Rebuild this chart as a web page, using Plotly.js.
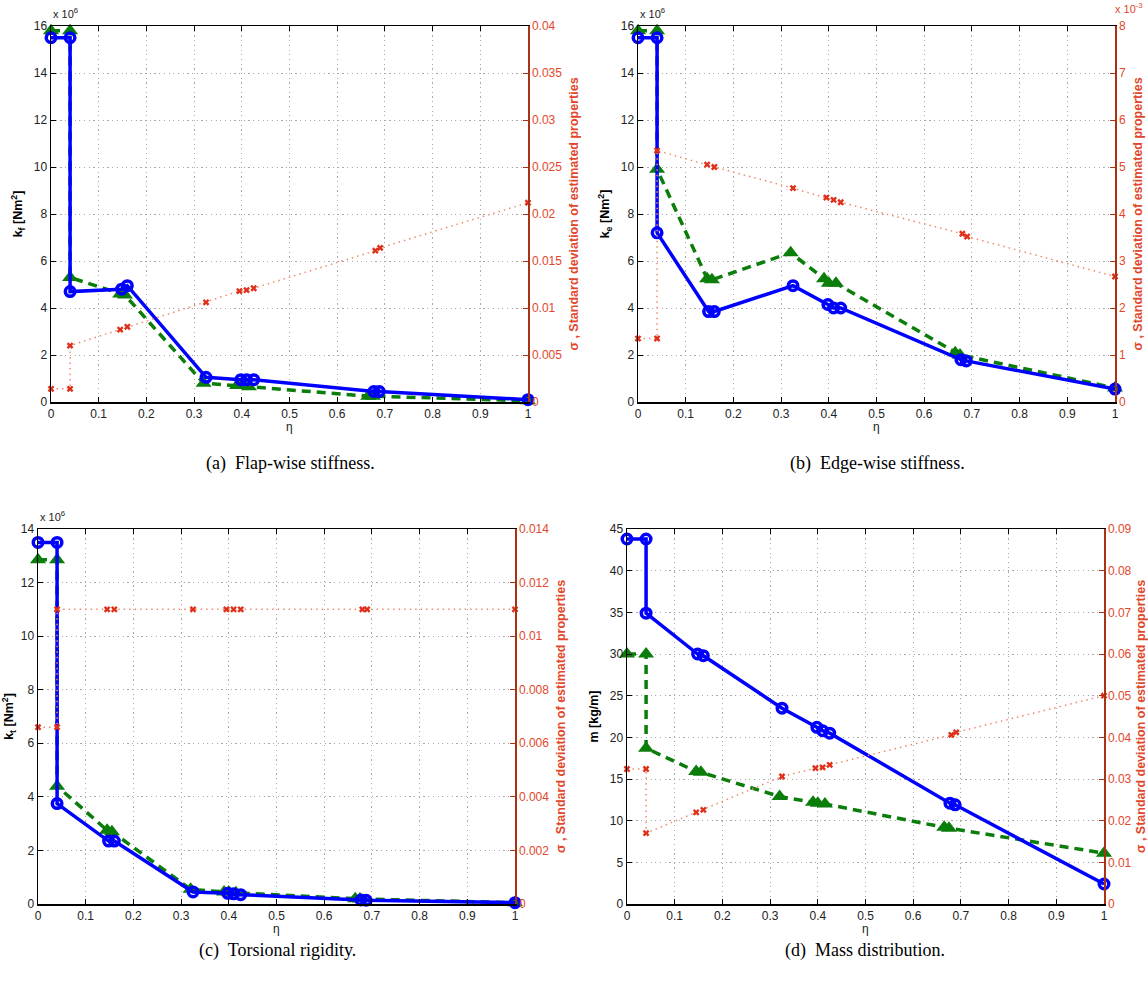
<!DOCTYPE html>
<html><head><meta charset="utf-8">
<script src="https://cdn.plot.ly/plotly-3.0.1.min.js"></script>
<style>html,body{margin:0;padding:0;background:#fff}#chart{width:1148px;height:981px}</style>
</head><body><div id="chart"></div>
<script>
// η positions
const etaBlue  = [0, 0.04, 0.04, 0.148, 0.16, 0.325, 0.398, 0.41, 0.425, 0.677, 0.688, 1.0];
const etaGreen = [0, 0.04, 0.04, 0.145, 0.155, 0.32, 0.39, 0.40, 0.415, 0.665, 0.675, 1.0];
const etaRed   = [0, 0.04, 0.04, 0.145, 0.16, 0.325, 0.395, 0.41, 0.425, 0.68, 0.69, 1.0];

// (a) flap-wise stiffness, x 10^6 Nm^2
const flapBlue  = [15.5, 15.5, 4.7, 4.8, 4.95, 1.05, 0.95, 0.95, 0.95, 0.45, 0.45, 0.1];
const flapGreen = [15.8, 15.8, 5.3, 4.6, 4.55, 0.8, 0.7, 0.7, 0.65, 0.25, 0.25, 0.05];
const flapSigma = [0.0014, 0.0014, 0.006, 0.0077, 0.008, 0.0106, 0.0118, 0.0119, 0.0121, 0.0161, 0.0164, 0.0212];

// (b) edge-wise stiffness, x 10^6 Nm^2 ; sigma x 10^-3
const edgeBlue  = [15.5, 15.5, 7.2, 3.85, 3.85, 4.95, 4.15, 4.0, 4.0, 1.8, 1.75, 0.55];
const edgeGreen = [15.8, 15.8, 9.9, 5.25, 5.2, 6.35, 5.25, 5.05, 5.05, 2.1, 2.0, 0.6];
const edgeSigma = [1.35, 1.35, 5.35, 5.05, 5.0, 4.55, 4.35, 4.3, 4.25, 3.58, 3.52, 2.67];

// (c) torsional rigidity, x 10^6 Nm^2
const torBlue  = [13.5, 13.5, 3.75, 2.35, 2.35, 0.45, 0.4, 0.38, 0.35, 0.15, 0.14, 0.05];
const torGreen = [12.85, 12.85, 4.4, 2.75, 2.7, 0.55, 0.45, 0.45, 0.42, 0.2, 0.19, 0.05];
const torSigma = [0.0066, 0.0066, 0.011, 0.011, 0.011, 0.011, 0.011, 0.011, 0.011, 0.011, 0.011, 0.011];

// (d) mass distribution, kg/m
const massBlue  = [43.8, 43.8, 34.9, 30.0, 29.8, 23.5, 21.2, 20.8, 20.5, 12.1, 11.9, 2.4];
const massGreen = [30.0, 30.0, 18.7, 15.9, 15.8, 12.9, 12.2, 12.1, 12.0, 9.2, 9.1, 6.1];
const massSigma = [0.0324, 0.0324, 0.017, 0.022, 0.0226, 0.0306, 0.0326, 0.0328, 0.0334, 0.0406, 0.0412, 0.05];

const BLUE = '#0000ff', GREEN = '#0a7d0a', REDL = '#f08a6a', REDM = '#e0301a';
const RAX = '#a83214', RTXT = '#e2472b';

function traces(xa, ya, yb, blue, green, sigma) {
  return [
    {x: etaGreen, y: green, xaxis: xa, yaxis: ya, type: 'scatter', mode: 'lines+markers', cliponaxis: false,
     line: {color: GREEN, width: 3.5, dash: '9px,6px'}, marker: {symbol: 'triangle-up', size: 14, color: GREEN}},
    {x: etaBlue, y: blue, xaxis: xa, yaxis: ya, type: 'scatter', mode: 'lines+markers', cliponaxis: false,
     line: {color: BLUE, width: 3.5}, marker: {symbol: 'circle-open', size: 9.5, color: BLUE, line: {width: 3.5, color: BLUE}}},
    {x: etaRed, y: sigma, xaxis: xa, yaxis: yb, type: 'scatter', mode: 'lines+markers', cliponaxis: false,
     line: {color: REDL, width: 1.5, dash: '1.5px,4px'}, marker: {symbol: 'x', size: 6, color: REDM}}
  ];
}

const data = [].concat(
  traces('x', 'y', 'y2', flapBlue, flapGreen, flapSigma),
  traces('x2', 'y3', 'y4', edgeBlue, edgeGreen, edgeSigma),
  traces('x3', 'y5', 'y6', torBlue, torGreen, torSigma),
  traces('x4', 'y7', 'y8', massBlue, massGreen, massSigma)
);

const F = 'Liberation Sans, Arial, sans-serif';
const GRID = '#a8a8a8', GDASH = '1.2px,3.5px';
function xax(dom, anchor) {
  return {domain: dom, anchor: anchor, range: [0, 1], dtick: 0.1, tick0: 0,
    showline: true, linecolor: '#000', linewidth: 1.5, mirror: 'ticks', ticks: 'inside', ticklen: 5, tickcolor: '#000',
    showgrid: true, gridcolor: GRID, griddash: GDASH, gridwidth: 1, zeroline: false,
    tickfont: {family: F, size: 12, color: '#222'}};
}
function yl(dom, anchor, max, dt, label) {
  return {domain: dom, anchor: anchor, range: [0, max], dtick: dt, tick0: 0,
    showline: true, linecolor: '#000', linewidth: 1.5, ticks: 'inside', ticklen: 5, tickcolor: '#000',
    showgrid: true, gridcolor: GRID, griddash: GDASH, gridwidth: 1, zeroline: false,
    tickfont: {family: F, size: 12, color: '#222'},
    title: {text: label, font: {family: F, size: 12.5, color: '#000', weight: 'bold'}, standoff: 8}};
}
function yr(over, anchor, max, dt) {
  return {overlaying: over, anchor: anchor, side: 'right', range: [0, max], dtick: dt, tick0: 0,
    showline: true, linecolor: RAX, linewidth: 1.5, ticks: 'inside', ticklen: 5, tickcolor: RAX,
    showgrid: false, zeroline: false,
    tickfont: {family: F, size: 12, color: RTXT},
    title: {text: 'σ , Standard deviation of estimated properties', font: {family: F, size: 12.5, color: RTXT, weight: 'bold'}, standoff: 8}};
}

const dA = [51/1148, 528/1148], dB = [638/1148, 1115/1148], dC = [38/1148, 515/1148], dD = [627/1148, 1104/1148];
const rowTop = [1-402/981, 1-26/981], rowBot = [1-904/981, 1-529/981];

function ann(text, x, yPx, opts) {
  return Object.assign({text: text, xref: 'paper', yref: 'paper', x: x, y: 1 - yPx/981, showarrow: false,
    xanchor: 'center', yanchor: 'middle', font: {family: F, size: 12, color: '#222'}}, opts || {});
}
const CAP = {family: 'Liberation Serif, serif', size: 18, color: '#000'};

const layout = {
  width: 1148, height: 981, margin: {l: 0, r: 0, t: 0, b: 0},
  paper_bgcolor: '#fff', plot_bgcolor: '#fff', showlegend: false,
  xaxis: xax(dA, 'y'), yaxis: yl(rowTop, 'x', 16, 2, 'k<sub>f</sub> [Nm<sup>2</sup>]'), yaxis2: yr('y', 'x', 0.04, 0.005),
  xaxis2: xax(dB, 'y3'), yaxis3: yl(rowTop, 'x2', 16, 2, 'k<sub>e</sub> [Nm<sup>2</sup>]'), yaxis4: yr('y3', 'x2', 8, 1),
  xaxis3: xax(dC, 'y5'), yaxis5: yl(rowBot, 'x3', 14, 2, 'k<sub>t</sub> [Nm<sup>2</sup>]'), yaxis6: yr('y5', 'x3', 0.014, 0.002),
  xaxis4: xax(dD, 'y7'), yaxis7: yl(rowBot, 'x4', 45, 5, 'm [kg/m]'), yaxis8: yr('y7', 'x4', 0.09, 0.01),
  annotations: [
    ann('x 10<sup>6</sup>', dA[0], 22, {xanchor: 'left', yanchor: 'bottom', font: {family: F, size: 11, color: '#222'}}),
    ann('x 10<sup>6</sup>', dB[0], 22, {xanchor: 'left', yanchor: 'bottom', font: {family: F, size: 11, color: '#222'}}),
    ann('x 10<sup>-3</sup>', dB[1] - 2/1148, 17, {xanchor: 'left', yanchor: 'bottom', font: {family: F, size: 11, color: RTXT}}),
    ann('x 10<sup>6</sup>', dC[0], 525, {xanchor: 'left', yanchor: 'bottom', font: {family: F, size: 11, color: '#222'}}),
    ann('η', (dA[0]+dA[1])/2, 427),
    ann('η', (dB[0]+dB[1])/2, 427),
    ann('η', (dC[0]+dC[1])/2, 929),
    ann('η', (dD[0]+dD[1])/2, 929),
    ann('(a)  Flap-wise stiffness.', 290/1148, 463, {font: CAP}),
    ann('(b)  Edge-wise stiffness.', 877/1148, 463, {font: CAP}),
    ann('(c)  Torsional rigidity.', 277/1148, 950, {font: CAP}),
    ann('(d)  Mass distribution.', 865/1148, 950, {font: CAP})
  ]
};

Plotly.newPlot('chart', data, layout, {displayModeBar: false, staticPlot: true});
</script></body></html>
